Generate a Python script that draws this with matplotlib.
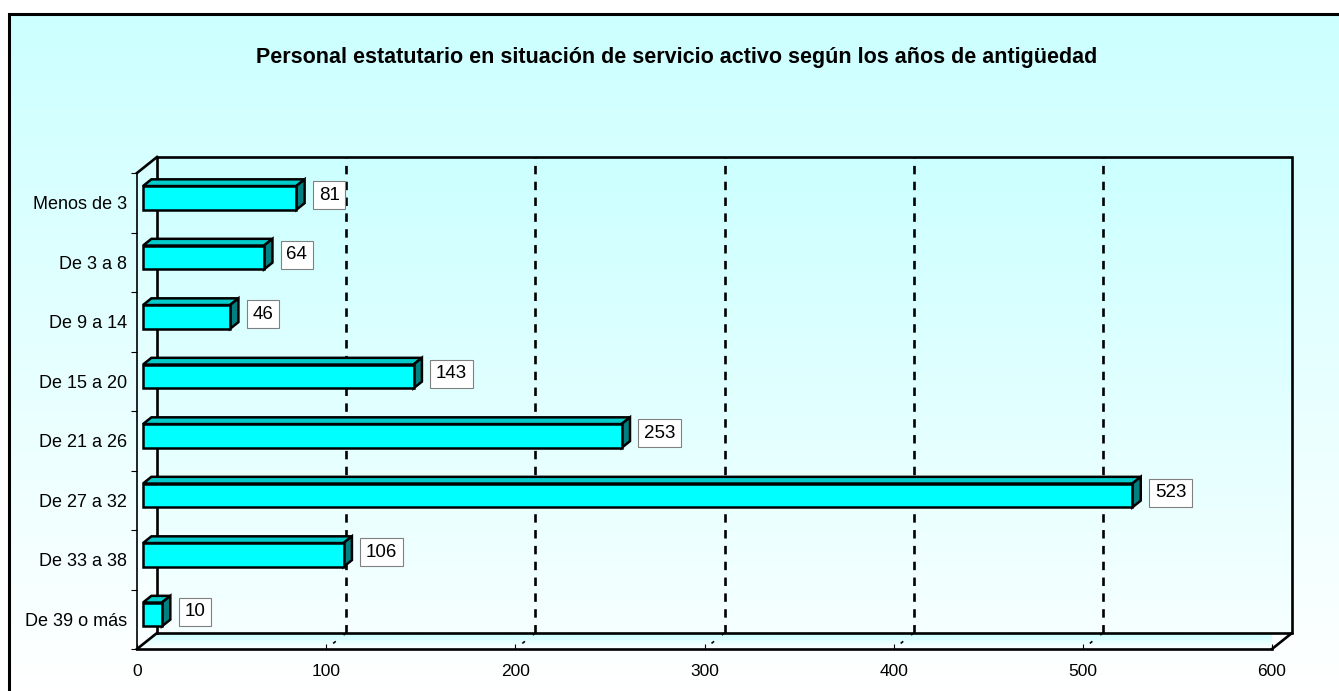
import numpy as np
import matplotlib
matplotlib.use("Agg")
import matplotlib.pyplot as plt
from matplotlib.patches import Polygon
from matplotlib.colors import LinearSegmentedColormap

plt.rcParams['font.family'] = ['Liberation Sans', 'DejaVu Sans']

# data (top to bottom as in the chart)
categories = ["Menos de 3", "De 3 a 8", "De 9 a 14", "De 15 a 20",
              "De 21 a 26", "De 27 a 32", "De 33 a 38", "De 39 o más"]
values = [81, 64, 46, 143, 253, 523, 106, 10]
xticks = [0, 100, 200, 300, 400, 500, 600]
title = "Personal estatutario en situación de servicio activo según los años de antigüedad"

W, H = 1339, 691
fig = plt.figure(figsize=(W / 100, H / 100), dpi=100)

# background: gradient cyan -> white, with frame
bg = fig.add_axes([0, 0, 1, 1])
bg.axis('off')
bg_cmap = LinearSegmentedColormap.from_list('bg', ['#ccffff', '#ffffff'])
grad = np.linspace(0, 1, 256).reshape(-1, 1)
bg.imshow(grad, cmap=bg_cmap, extent=[8, W, H, 14], aspect='auto', zorder=0)
bg.plot([8.5, 8.5, W], [H, 14, 14], color='black', lw=2.2, solid_joinstyle='miter')
bg.set_xlim(0, W)
bg.set_ylim(H, 0)

fig.text(677 / W, 1 - 57 / H, title, ha='center', va='center',
         fontsize=15.5, fontweight='bold')

# front plane of the 3D box
ax = fig.add_axes([137 / W, 42 / H, 1135 / W, 476 / H])
ax.patch.set_visible(False)
n = len(categories)
xmax = xticks[-1]
px_x = 1135 / xmax          # pixels per unit
px_y = 476 / n
DX = 20 / px_x              # depth offset in data units
DY = 16 / px_y


def P(x, y, z):
    return (x + z * DX, y + z * DY)


# back wall gradient
wall_cmap = LinearSegmentedColormap.from_list('wall', ['#f6ffff', '#ccffff'])
ax.imshow(grad, cmap=wall_cmap, origin='lower', extent=[DX, xmax + DX, DY, n + DY],
          aspect='auto', zorder=0, clip_on=False)

# floor gradient
floor = Polygon([P(0, 0, 0), P(xmax, 0, 0), P(xmax, 0, 1), P(0, 0, 1)],
                closed=True, fc='none', ec='none', transform=ax.transData)
ax.add_patch(floor)
floor_cmap = LinearSegmentedColormap.from_list('floor', ['#ffffff', '#c8ffff'])
im = ax.imshow(grad, cmap=floor_cmap, origin='lower', extent=[0, xmax + DX, 0, DY],
               aspect='auto', zorder=0.5)
im.set_clip_path(floor)

# gridlines on the wall and floor
for xv in xticks[1:-1]:
    ax.plot(*zip(P(xv, 0, 1), P(xv, n, 1)), color='black', lw=1.9,
            linestyle=(0, (3.2, 2.8)), clip_on=False, zorder=1)
    ax.plot(*zip(P(xv, 0, 1), P(xv, 0, 0)), color='black', lw=1.2,
            linestyle=(0, (2, 6)), clip_on=False, zorder=1)

# box outlines
lw_box = 1.9
ax.plot(*zip(P(0, 0, 1), P(0, n, 1), P(xmax, n, 1), P(xmax, 0, 1), P(0, 0, 1)),
        color='black', lw=lw_box, clip_on=False, zorder=2, solid_joinstyle='miter')
ax.plot(*zip(P(0, n, 0), P(0, n, 1)), color='black', lw=lw_box, clip_on=False, zorder=2)
ax.plot(*zip(P(0, 0, 0), P(0, 0, 1)), color='black', lw=lw_box, clip_on=False, zorder=2)
ax.plot(*zip(P(xmax, 0, 0), P(xmax, 0, 1)), color='black', lw=lw_box, clip_on=False, zorder=2)

# bars
h = 0.40
z0, z1 = 0.3, 0.72
for k, (cat, v) in enumerate(zip(categories, values)):
    i = n - 1 - k
    y0 = i + 0.5 - h / 2
    y1 = y0 + h
    front = [P(0, y0, z0), P(v, y0, z0), P(v, y1, z0), P(0, y1, z0)]
    top = [P(0, y1, z0), P(v, y1, z0), P(v, y1, z1), P(0, y1, z1)]
    side = [P(v, y0, z0), P(v, y0, z1), P(v, y1, z1), P(v, y1, z0)]
    for pts, col in [(top, '#00cccc'), (side, '#008080'), (front, '#00ffff')]:
        ax.add_patch(Polygon(pts, closed=True, fc=col, ec='black', lw=1.8,
                             joinstyle='miter', zorder=3, clip_on=False))
    ax.annotate(str(v), xy=(v + z1 * DX, i + 0.5 + 0.47 * DY),
                xytext=(14, 0), textcoords='offset pixels',
                ha='left', va='center', fontsize=13.5, zorder=4,
                bbox=dict(boxstyle='square,pad=0.3', fc='white', ec='#808080', lw=0.8))

ax.set_xlim(0, xmax)
ax.set_ylim(0, n)
for s in ['top', 'right']:
    ax.spines[s].set_visible(False)
ax.spines['left'].set_linewidth(1.2)
ax.spines['bottom'].set_linewidth(1.9)
ax.spines['left'].set_zorder(2)
ax.spines['bottom'].set_zorder(2)

ax.set_xticks(xticks)
ax.set_xticklabels([str(t) for t in xticks])
ax.tick_params(axis='x', direction='in', length=3.6, width=0.8, pad=11, labelsize=12.5)

ax.set_yticks(np.arange(n + 1))
ax.set_yticklabels([])
ax.set_yticks(np.arange(n) + 0.5, minor=True)
ax.set_yticklabels(categories[::-1], minor=True)
ax.tick_params(axis='y', which='major', direction='out', length=4.3, width=0.8)
ax.tick_params(axis='y', which='minor', length=0, pad=7.2, labelsize=13)

fig.savefig('out.png', dpi=100)
